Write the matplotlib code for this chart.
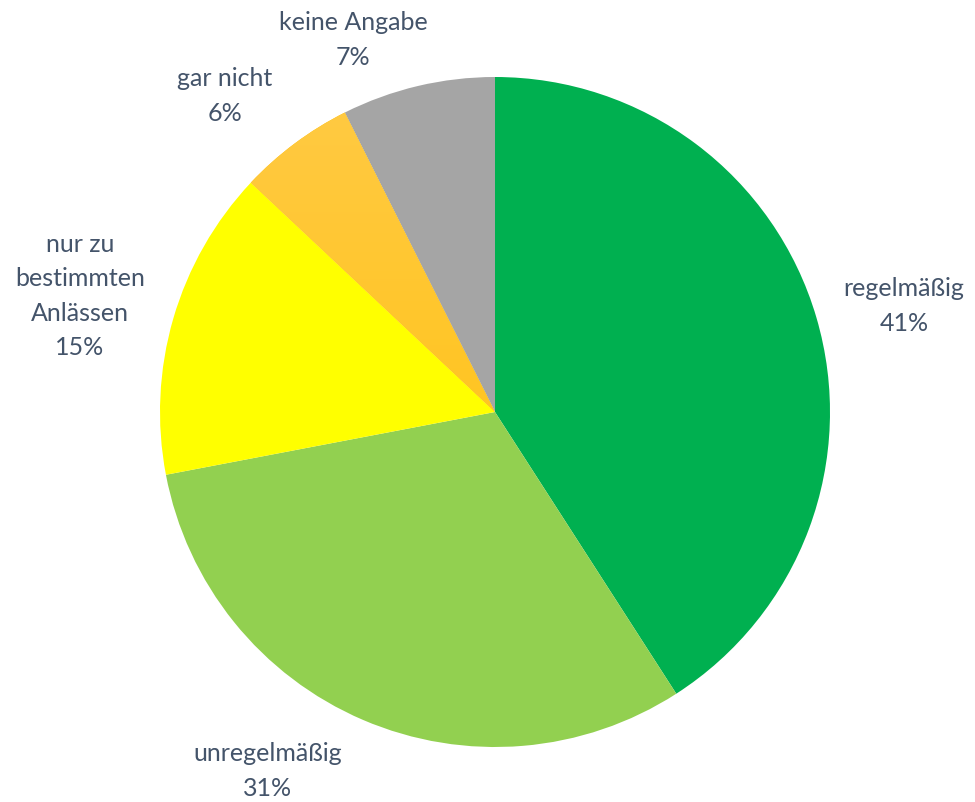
import numpy as np
import matplotlib.pyplot as plt
from matplotlib.colors import LinearSegmentedColormap

categories = ["regelmäßig", "unregelmäßig", "nur zu\nbestimmten\nAnlässen", "gar nicht", "keine Angabe"]
shares = [40.9, 31.1, 15.0, 5.6, 7.4]
colors = ["#00B050", "#92D050", "#FFFF00", "#FFC000", "#A5A5A5"]

# label spots (in pie radii), roughly where Excel put them
label_pos = [(1.221, 0.316), (-0.678, -1.072), (-1.239, 0.346), (-0.806, 0.943), (-0.424, 1.110)]
text_color = "#44546A"

fig = plt.figure(figsize=(9.75, 8.02), dpi=100)
ax = fig.add_axes([0, 0, 1, 1])

wedges, _ = ax.pie(shares, colors=colors, startangle=90, counterclock=False,
                   radius=1.0, wedgeprops=dict(linewidth=0))

# orange slice gets a soft top-to-bottom gradient like the original
cmap = LinearSegmentedColormap.from_list("og", ["#FFC000", "#FFCA45"])
grad = np.linspace(0, 1, 256).reshape(-1, 1)
im = ax.imshow(grad, cmap=cmap, extent=[-1, 1, -1, 1], origin="lower",
               aspect="auto", zorder=wedges[3].get_zorder() + 0.1)
im.set_clip_path(wedges[3])

total = sum(shares)
for name, val, (x, y) in zip(categories, shares, label_pos):
    ax.text(x, y, f"{name}\n{val / total * 100:.0f}%", ha="center", va="center",
            fontsize=18, color=text_color, family=["Lato", "DejaVu Sans"],
            linespacing=1.6)

ax.set_xlim(-495 / 335, (975 - 495) / 335)
ax.set_ylim(-(802 - 412) / 335, 412 / 335)
ax.set_aspect("equal")
ax.axis("off")

fig.savefig("out.png", dpi=100)
